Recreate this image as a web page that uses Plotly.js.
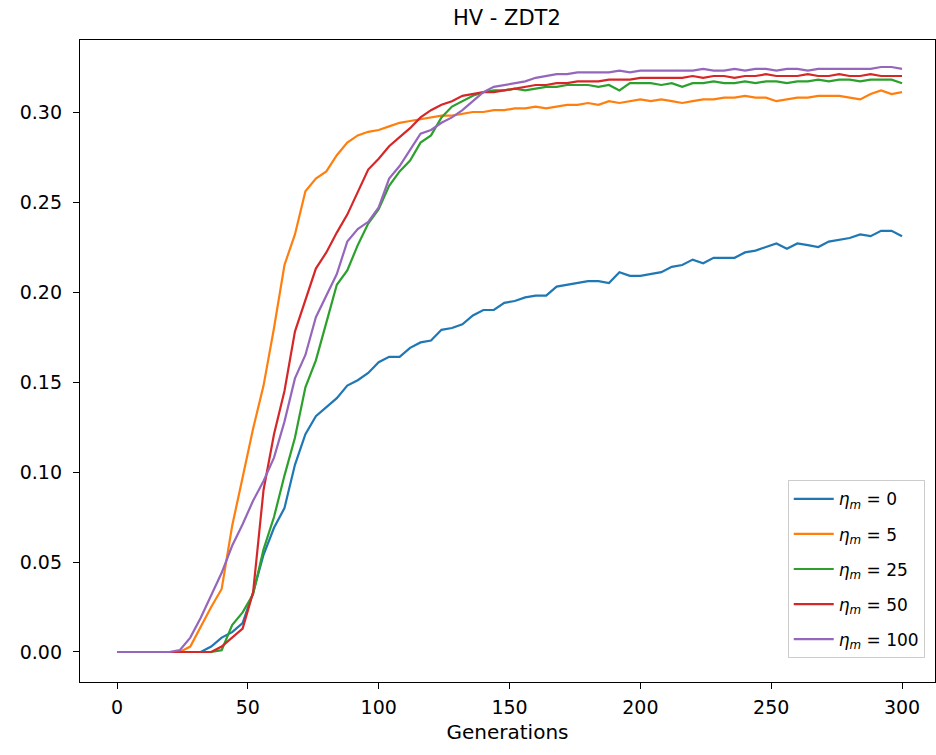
<!DOCTYPE html>
<html>
<head>
<meta charset="utf-8">
<script src="https://cdn.plot.ly/plotly-3.0.1.min.js"></script>
<style>html,body{margin:0;padding:0;background:#fff;}#chart{width:936px;height:755px;}</style>
</head>
<body>
<div id="chart"></div>
<script>
const generations = [0,4,8,12,16,20,24,28,32,36,40,44,48,52,56,60,64,68,72,76,80,84,88,92,96,100,104,108,112,116,120,124,128,132,136,140,144,148,152,156,160,164,168,172,176,180,184,188,192,196,200,204,208,212,216,220,224,228,232,236,240,244,248,252,256,260,264,268,272,276,280,284,288,292,296,300];

const hvEta0 = [0,0,0,0,0,0,0,0,0,0.003,0.008,0.011,0.016,0.033,0.054,0.069,0.080,0.104,0.121,0.131,0.136,0.141,0.148,0.151,0.155,0.161,0.164,0.164,0.169,0.172,0.173,0.179,0.180,0.182,0.187,0.190,0.190,0.194,0.195,0.197,0.198,0.198,0.203,0.204,0.205,0.206,0.206,0.205,0.211,0.209,0.209,0.210,0.211,0.214,0.215,0.218,0.216,0.219,0.219,0.219,0.222,0.223,0.225,0.227,0.224,0.227,0.226,0.225,0.228,0.229,0.230,0.232,0.231,0.234,0.234,0.231];

const hvEta5 = [0,0,0,0,0,0,0,0.003,0.014,0.025,0.035,0.070,0.097,0.124,0.148,0.180,0.215,0.232,0.256,0.263,0.267,0.276,0.283,0.287,0.289,0.290,0.292,0.294,0.295,0.296,0.297,0.298,0.298,0.299,0.300,0.300,0.301,0.301,0.302,0.302,0.303,0.302,0.303,0.304,0.304,0.305,0.304,0.306,0.305,0.306,0.307,0.306,0.307,0.306,0.305,0.306,0.307,0.307,0.308,0.308,0.309,0.308,0.308,0.306,0.307,0.308,0.308,0.309,0.309,0.309,0.308,0.307,0.310,0.312,0.310,0.311];

const hvEta25 = [0,0,0,0,0,0,0,0,0,0,0.001,0.015,0.022,0.032,0.057,0.075,0.098,0.119,0.147,0.162,0.183,0.204,0.212,0.226,0.238,0.246,0.259,0.267,0.273,0.283,0.287,0.297,0.303,0.306,0.309,0.311,0.312,0.312,0.313,0.312,0.313,0.314,0.314,0.315,0.315,0.315,0.314,0.315,0.312,0.316,0.316,0.316,0.315,0.316,0.314,0.316,0.316,0.317,0.316,0.316,0.317,0.316,0.317,0.317,0.316,0.317,0.317,0.318,0.317,0.318,0.318,0.317,0.318,0.318,0.318,0.316];

const hvEta50 = [0,0,0,0,0,0,0,0,0,0,0.003,0.008,0.013,0.033,0.090,0.121,0.145,0.178,0.195,0.213,0.222,0.233,0.243,0.256,0.268,0.274,0.281,0.286,0.291,0.297,0.301,0.304,0.306,0.309,0.310,0.311,0.311,0.312,0.313,0.314,0.315,0.315,0.316,0.316,0.317,0.317,0.317,0.318,0.318,0.318,0.319,0.319,0.319,0.319,0.319,0.320,0.319,0.320,0.320,0.319,0.320,0.320,0.321,0.320,0.320,0.320,0.321,0.320,0.320,0.321,0.320,0.320,0.321,0.320,0.320,0.320];

const hvEta100 = [0,0,0,0,0,0,0.001,0.008,0.019,0.032,0.044,0.059,0.071,0.084,0.095,0.108,0.128,0.152,0.165,0.186,0.198,0.210,0.228,0.235,0.239,0.247,0.263,0.270,0.279,0.288,0.290,0.294,0.297,0.301,0.306,0.311,0.314,0.315,0.316,0.317,0.319,0.320,0.321,0.321,0.322,0.322,0.322,0.322,0.323,0.322,0.323,0.323,0.323,0.323,0.323,0.323,0.324,0.323,0.323,0.324,0.323,0.324,0.324,0.323,0.324,0.324,0.323,0.324,0.324,0.324,0.324,0.324,0.324,0.325,0.325,0.324];

const seriesNames = ["<i>η</i><sub><i>m</i></sub> = 0","<i>η</i><sub><i>m</i></sub> = 5","<i>η</i><sub><i>m</i></sub> = 25","<i>η</i><sub><i>m</i></sub> = 50","<i>η</i><sub><i>m</i></sub> = 100"];
const seriesValues = [hvEta0, hvEta5, hvEta25, hvEta50, hvEta100];
const colors = ["#1f77b4","#ff7f0e","#2ca02c","#d62728","#9467bd"];

const xTicks = [0,50,100,150,200,250,300];
const yTicks = [0,0.05,0.10,0.15,0.20,0.25,0.30];

const traces = seriesValues.map((vals, i) => ({
  x: generations,
  y: vals,
  type: "scatter",
  mode: "lines",
  name: seriesNames[i],
  legendgroup: "g" + i,
  line: {color: colors[i], width: 2.2}
}));

const font = {family: "DejaVu Sans, sans-serif", color: "#000"};

const layout = {
  width: 936, height: 755,
  paper_bgcolor: "#fff", plot_bgcolor: "#fff",
  margin: {l: 80, r: 1, t: 40, b: 73, pad: 0},
  title: {text: "HV - ZDT2", font: Object.assign({size: 21}, font), x: 0.5415, xanchor: "center", y: 0.976, yanchor: "middle"},
  showlegend: true,
  legend: {
    x: 0.988, xanchor: "right", y: 0.037, yanchor: "bottom",
    bgcolor: "rgba(255,255,255,0.8)", bordercolor: "#cccccc", borderwidth: 1,
    font: Object.assign({size: 17}, font),
    tracegroupgap: 10, itemwidth: 40
  },
  xaxis: {
    range: [-14.14, 312.6],
    tickvals: xTicks, ticktext: xTicks.map(String),
    ticks: "outside", ticklen: 6, tickwidth: 1, tickcolor: "#000",
    ticklabelstandoff: 2,
    showline: true, linecolor: "#000", linewidth: 1.2, mirror: true,
    showgrid: false, zeroline: false,
    tickfont: Object.assign({size: 19}, font),
    title: {text: "Generations", font: Object.assign({size: 20}, font), standoff: 8}
  },
  yaxis: {
    range: [-0.01667, 0.34],
    tickvals: yTicks, ticktext: yTicks.map(v => v.toFixed(2)),
    ticks: "outside", ticklen: 6, tickwidth: 1, tickcolor: "#000",
    ticklabelstandoff: 7,
    showline: true, linecolor: "#000", linewidth: 1.2, mirror: true,
    showgrid: false, zeroline: false,
    tickfont: Object.assign({size: 19}, font)
  }
};

Plotly.newPlot("chart", traces, layout, {displayModeBar: false, staticPlot: true});
</script>
</body>
</html>
